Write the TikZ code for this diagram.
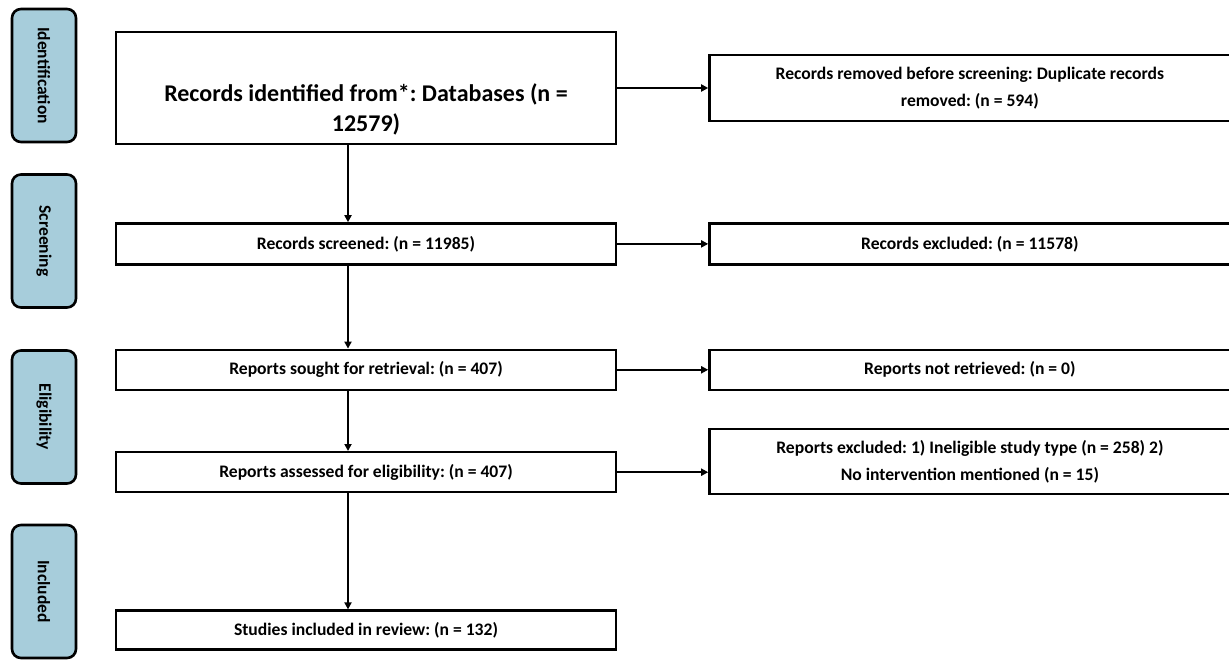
\documentclass[tikz,border=0pt]{standalone}
\usepackage{fontspec}
\setmainfont{Carlito}
\usetikzlibrary{shapes, positioning, arrows.meta}
\definecolor{tabblue}{HTML}{A7CDDB}
\frenchspacing

\begin{document}
\begin{tikzpicture}[x=1pt, y=-1pt, ->, >={Triangle[length=7pt,width=7pt]}, line width=2.4pt, font=\bfseries]
\tikzstyle{box}=[draw, rectangle, align=center, inner sep=0pt, font=\fontsize{17.6}{27}\selectfont\bfseries]
\tikzstyle{mainbox}=[box, minimum width=500pt]
\tikzstyle{sidebox}=[box, minimum width=521pt]
\tikzstyle{tab}=[draw, rectangle, rounded corners=9pt, fill=tabblue, minimum width=64pt, minimum height=133pt, line width=2.6pt, font=\fontsize{17.5}{20}\selectfont\bfseries]
\useasboundingbox (0,0) rectangle (1229,660);

\node[mainbox, minimum height=112pt, font=\fontsize{24}{30}\selectfont\bfseries] (I) at (366,88) {\rule{0pt}{60pt}Records identified from*: Databases (n =\\ 12579)};
\node[mainbox, minimum height=41pt]   (S)[below=77pt of I]   {Records screened: (n = 11985)};
\node[mainbox, minimum height=40pt]   (R)[below=83pt of S]   {Reports sought for retrieval: (n = 407)};
\node[mainbox, minimum height=40pt]   (E)[below=60pt of R]   {Reports assessed for eligibility: (n = 407)};
\node[mainbox, minimum height=39pt]   (N)[below=116pt of E]  {Studies included in review: (n = 132)};

\node[sidebox, minimum height=66pt]   (Ix)[right=91pt of I]  {Records removed before screening: Duplicate records\\ removed: (n = 594)};
\node[sidebox, minimum height=41pt]   (Sx)[right=91pt of S]  {Records excluded: (n = 11578)};
\node[sidebox, minimum height=40pt]   (Rx)[right=91pt of R]  {Reports not retrieved: (n = 0)};
\node[sidebox, minimum height=65pt, yshift=10.5pt]   (Ex)[right=91pt of E]  {Reports excluded: 1) Ineligible study type (n = 258) 2)\\ No intervention mentioned (n = 15)};

\node[tab] (t1) at (44,75.5)  {\rotatebox{-90}{Identification}};
\node[tab] (t2) at (44,241)   {\rotatebox{-90}{Screening}};
\node[tab] (t3) at (44,417)   {\rotatebox{-90}{Eligibility}};
\node[tab] (t4) at (44,591.5) {\rotatebox{-90}{Included}};

\draw ([xshift=-18pt]I.south) -- ([xshift=-18pt]S.north);
\draw ([xshift=-18pt]S.south) -- ([xshift=-18pt]R.north);
\draw ([xshift=-18pt]R.south) -- ([xshift=-18pt]E.north);
\draw ([xshift=-18pt]E.south) -- ([xshift=-18pt]N.north);

\draw (I.east) -- (Ix.west);
\draw (S.east) -- (Sx.west);
\draw (R.east) -- (Rx.west);
\draw (E.east) -- (E.east -| Ex.west);

\end{tikzpicture}
\end{document}
